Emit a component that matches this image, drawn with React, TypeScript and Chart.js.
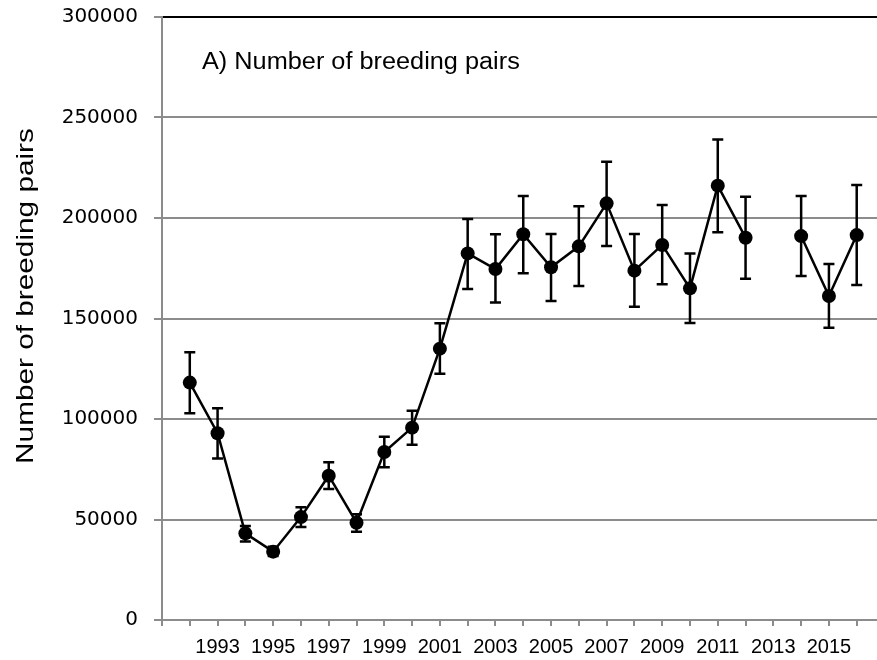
import React, { useEffect, useRef } from "react";
import { Chart, registerables } from "chart.js";

Chart.register(...registerables);

const years = [1992, 1993, 1994, 1995, 1996, 1997, 1998, 1999, 2000, 2001, 2002, 2003, 2004, 2005, 2006, 2007, 2008, 2009, 2010, 2011, 2012, 2013, 2014, 2015, 2016];
const pairs = [118100, 92900, 43100, 34000, 51200, 71800, 48400, 83600, 95700, 135000, 182400, 174600, 191900, 175500, 185900, 207300, 173800, 186600, 165000, 216100, 190200, null, 191000, 161200, 191500];
const upper = [133200, 105300, 46800, 36500, 56100, 78500, 52600, 91200, 104100, 147600, 199500, 191900, 210900, 192000, 205800, 228000, 192000, 206500, 182400, 239000, 210600, null, 210900, 177100, 216400];
const lower = [102800, 80400, 39000, 31800, 46300, 65200, 43900, 76000, 87200, 122500, 164700, 157900, 172500, 158700, 166200, 186100, 155900, 167000, 147800, 192900, 169800, null, 171100, 145400, 166700];
const panelTitle = "A) Number of breeding pairs";
const yTitle = "Number of breeding pairs";

const errorBarPlugin = {
  id: "errorBars",
  beforeDatasetsDraw(chart: any) {
    const { ctx, scales } = chart;
    const xs = scales.x;
    const ys = scales.y;
    ctx.save();
    ctx.strokeStyle = "#000";
    ctx.lineWidth = 2.5;
    ctx.lineCap = "butt";
    for (let i = 0; i < years.length; i++) {
      if (upper[i] == null || lower[i] == null) continue;
      const x = xs.getPixelForValue(years[i]);
      const yt = ys.getPixelForValue(upper[i] as number);
      const yb = ys.getPixelForValue(lower[i] as number);
      ctx.beginPath();
      ctx.moveTo(x, yt);
      ctx.lineTo(x, yb);
      ctx.moveTo(x - 5.5, yt);
      ctx.lineTo(x + 5.5, yt);
      ctx.moveTo(x - 5.5, yb);
      ctx.lineTo(x + 5.5, yb);
      ctx.stroke();
    }
    ctx.restore();
  },
};

const textPlugin = {
  id: "texts",
  afterDraw(chart: any) {
    const { ctx, chartArea } = chart;
    ctx.save();
    ctx.fillStyle = "#000";
    ctx.font = "23px 'Liberation Sans', Arial, sans-serif";
    ctx.textAlign = "left";
    ctx.textBaseline = "middle";
    ctx.translate(chartArea.left + 40, chartArea.top + 46);
    ctx.scale(1.1, 1);
    ctx.fillText(panelTitle, 0, 0);
    ctx.restore();

    ctx.save();
    ctx.fillStyle = "#000";
    ctx.font = "24px 'Liberation Sans', Arial, sans-serif";
    ctx.textAlign = "center";
    ctx.textBaseline = "middle";
    ctx.translate(26, 296);
    ctx.rotate(-Math.PI / 2);
    ctx.scale(1.24, 1);
    ctx.fillText(yTitle, 0, 0);
    ctx.restore();
  },
};

export default function App() {
  const ref = useRef<HTMLCanvasElement | null>(null);
  useEffect(() => {
    document.body.style.margin = "0";
    if (!ref.current) return;
    const chart = new Chart(ref.current, {
      type: "line",
      data: {
        datasets: [
          {
            data: years.map((y, i) => ({ x: y, y: pairs[i] })),
            borderColor: "#000",
            backgroundColor: "#000",
            borderWidth: 2.5,
            pointRadius: 7,
            pointBackgroundColor: "#000",
            pointBorderColor: "#000",
            pointBorderWidth: 0,
            spanGaps: false,
            tension: 0,
            clip: false,
          },
        ],
      },
      options: {
        animation: false,
        responsive: false,
        maintainAspectRatio: false,
        layout: { autoPadding: false, padding: { top: 17, right: 0, left: 0, bottom: 0 } },
        plugins: { legend: { display: false }, tooltip: { enabled: false }, title: { display: false } },
        scales: {
          x: {
            type: "linear",
            min: 1991,
            max: 2016.73,
            afterFit(scale: any) {
              scale.height = 40;
              scale.paddingLeft = 0;
              scale.paddingRight = 0;
            },
            border: { display: true, color: "#8c8c8c", width: 2 },
            grid: {
              drawOnChartArea: false,
              drawTicks: true,
              tickLength: 6,
              color: "#8c8c8c",
              lineWidth: 2,
            },
            ticks: {
              stepSize: 1,
              includeBounds: false,
              autoSkip: false,
              maxRotation: 0,
              padding: 9,
              color: "#000",
              font: { family: "'Liberation Sans', Arial, sans-serif", size: 20 },
              callback: (v: any) => (v % 2 === 1 && v >= 1993 ? String(v) : ""),
            },
          },
          y: {
            min: 0,
            max: 300000,
            afterFit(scale: any) {
              scale.width = 162;
              scale.paddingTop = 0;
              scale.paddingBottom = 0;
            },
            border: { display: true, color: "#8c8c8c", width: 2 },
            grid: {
              drawTicks: true,
              tickLength: 8,
              color: (c: any) => (c.tick && c.tick.value === 300000 ? "#000" : "#8c8c8c"),
              tickColor: "#8c8c8c",
              lineWidth: 2,
            },
            ticks: {
              stepSize: 50000,
              padding: 16,
              color: "#000",
              font: { family: "'DejaVu Sans', Verdana, sans-serif", size: 20 },
              callback: (v: any) => String(v),
            },
          },
        },
      },
      plugins: [errorBarPlugin, textPlugin],
    });
    return () => chart.destroy();
  }, []);
  return (
    <div style={{ width: 877, height: 660 }}>
      <canvas ref={ref} width={877} height={660} style={{ display: "block" }} />
    </div>
  );
}
